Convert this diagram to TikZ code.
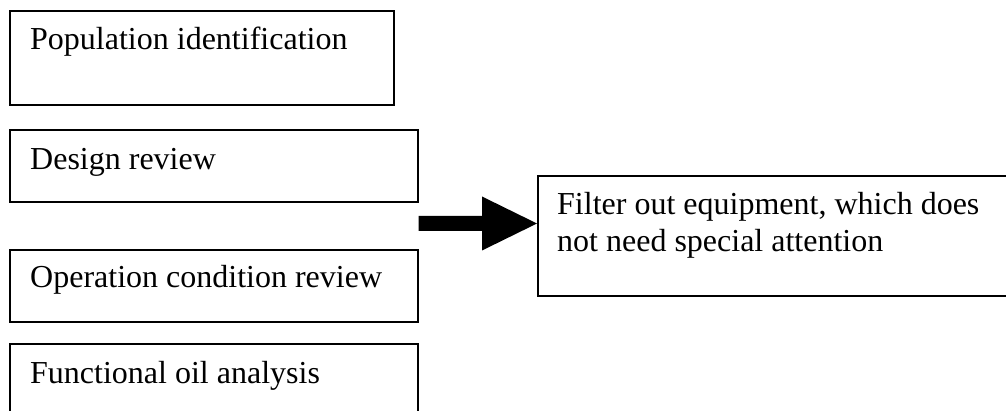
\documentclass[tikz,border=0pt]{standalone}
\usepackage{fontspec}
\setmainfont{Liberation Serif}
\usetikzlibrary{calc}
\begin{document}
\begin{tikzpicture}[x=1pt,y=-1pt,
  box/.style={draw=black,line width=1.6pt,rectangle,inner sep=0pt,anchor=north west},
  lab/.style={inner sep=0pt,anchor=base west,font=\fontsize{32}{37}\selectfont,text=black,align=left}]
\useasboundingbox (0,0) rectangle (1006,411);
\clip (0,0) rectangle (1006,411);
\fill[white] (0,0) rectangle (1006,411);
% left column boxes
\node[box,minimum width=384pt,minimum height=94pt] (b1) at (9,10) {};
\node[box,minimum width=408pt,minimum height=72pt] (b2) at (9,129) {};
\node[box,minimum width=408pt,minimum height=72pt] (b3) at (9,249) {};
\node[box,minimum width=408pt,minimum height=90pt] (b4) at (9,343) {};
% right box (continues past the right edge)
\node[box,minimum width=500pt,minimum height=120pt] (rb) at (537,175) {};
% texts
\node[lab] (t1) at ($(b1.north west)+(21,40)$) {Population identification};
\node[lab] (t2) at ($(b2.north west)+(21,41)$) {Design review};
\node[lab] (t3) at ($(b3.north west)+(21,39)$) {Operation condition review};
\node[lab] (t4) at ($(b4.north west)+(21,40)$) {Functional oil analysis};
\node[lab] (t5) at ($(rb.north west)+(20,77)$) {Filter out equipment, which does\\not need special attention};
% block arrow
\coordinate (as) at (b2.east |- 0,223.5);
\coordinate (at) at (rb.west |- as);
\coordinate (hb) at ($(at)+(-55,0)$);
\fill[black] ($(as)+(0,-7.5)$) -- ($(hb)+(0,-7.5)$) -- ($(hb)+(0,-27)$) -- (at)
  -- ($(hb)+(0,27)$) -- ($(hb)+(0,7.5)$) -- ($(as)+(0,7.5)$) -- cycle;
\end{tikzpicture}
\end{document}
